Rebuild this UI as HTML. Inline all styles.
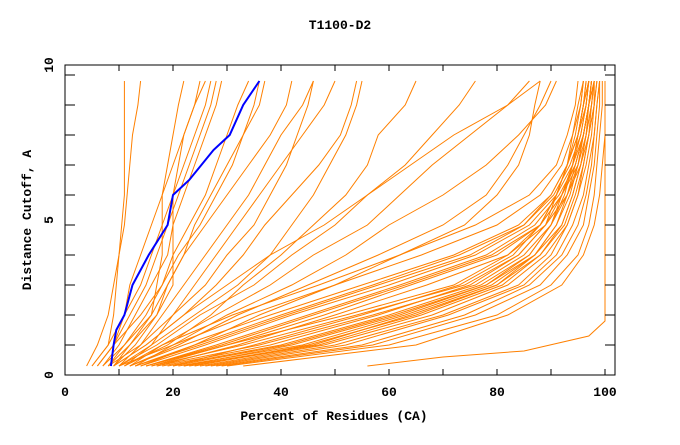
<!DOCTYPE html>
<html><head><meta charset="utf-8"><style>
body{margin:0;background:#fff}
svg text{font-family:"Liberation Mono",monospace;font-weight:bold;fill:#000}
</style></head><body>
<svg id="chart" width="680" height="440" viewBox="0 0 680 440" xmlns="http://www.w3.org/2000/svg">
<rect width="680" height="440" fill="#fff"/>
<text x="340" y="29" font-size="13" text-anchor="middle">T1100-D2</text>
<text x="334" y="420" font-size="13" text-anchor="middle">Percent of Residues (CA)</text>
<text x="0" y="0" font-size="13" text-anchor="middle" transform="translate(31,220) rotate(-90)">Distance Cutoff, A</text>
<g id="lines"></g>
<g id="axes"></g>
</svg>
<script>
const cutoffs=[0.3,1,2,3,4,5,6,7,8,9,9.8];
const xTicks=[0,20,40,60,80,100];
const yTicks=[0,5,10];
const modelB=[
[22,42,62,78,86,90,92,94,95,96,97],[18,38,58,75,84,89,91,93,95,96,96.5],
[25,48,68,82,89,93,95,96,97,98,98],[20,35,55,73,83,88,91,93,94,95,96],
[15,30,52,72,82,88,91,93,94.5,95.5,96],[28,55,74,86,92,95,96.5,97.5,98,98.5,99],
[30,60,80,90,95,97,98,98.5,99,99.5,99.5],[24,45,65,80,87,91,93.5,95,96,97,97.5],
[19,40,60,77,86,90,93,94.5,96,97,97.5],[26,50,70,84,90,93,95,96.5,97.5,98,98.5],
[21,44,63,79,87,92,94,95.5,96.5,97,98],[33,65,82,92,96,98,99,99.5,100,100,100],
[17,36,57,76,85,90,92.5,94,95.5,96.5,97],[23,47,66,81,88,92.5,94.5,96,97,97.5,98],
[20,41,61,78,87,91,93,95,96,97,97.5],[16,33,54,74,84,89,92,94,95,96.5,97],
[27,52,71,85,91,94,96,97,98,98.5,99],[22,46,64,80,88,92,94,95.5,96.5,97.5,98],
[29,57,76,88,93,96,97,98,98.5,99,99]];
const modelC=[
[12,22,38,55,72,84,90,93,95,96,97],[14,26,42,60,76,86,91,94,96,97,97.5],
[10,20,34,50,66,80,88,92,94,95.5,96],[16,30,48,64,80,88,92,95,96.5,97.5,98],
[13,24,40,57,73,85,90.5,93.5,95.5,96.5,97],[11,18,31,47,62,76,86,91,93,94.5,95],
[15,28,45,62,78,87,91.5,94.5,96,97,98],[17,32,50,67,82,89,93,95.5,97,98,98.5],
[13,25,41,58,75,85,90,93,95,96,96.5],[15,29,46,63,79,88,92,94.5,96,97,97.5]];
const modelD=[
[12,18,28,38,46,56,62,68,75,82,86],[10,17,25,35,42,50,56,63,68,73,76],
[11,19,27,33,40,46,52,56,58,63,65],[13,20,30,42,52,60,70,78,84,89,91],
[10,16,24,32,38,42,46,49,52,54,55],[9,15,22,28,33,37,42,47,51,53,54],
[12,21,32,45,58,70,78,82,85,88,90],[8,14,20,26,30,35,38,41,43,45,46],
[9,15,22,30,38,48,56,64,72,82,88],[14,24,36,50,62,74,80,84,86,87,88]];
const modelA=[
[5,8,9,9.5,10,10.5,11,11,11,11,11],[4,6,8,9,10,11,11.5,12,12.5,13.5,14],
[5,8,11,14,16,18,20,22,24,26,27],[6,9,12,15,17,19,21,23,25,27,28],
[7,10,13,16,19,20,22,24,26,28,29],[6,9,14,18,20,23,26,28,30,32,34],
[8,11,15,18,21,25,28,31,33,35,36],[9,12,16,19,22,26,30,34,38,41,42],
[10,14,18,22,26,30,34,37,40,44,46],[7,11,16,17,18,18,18,19,20,21,22],
[8,12,17,20,20,20,20,21,22,24,25],[9,13,17,19,22,24,27,30,33,36,37],
[11,16,20,24,28,32,36,40,44,48,50],[6,9,11,12,14,16,18,20,22,24,26]];
const outlierX=[56,70,85,97,100,100];
const outlierY=[0.3,0.6,0.8,1.3,1.8,9.8];
const targetX=[8.5,9,9.5,11,12.5,15.5,19,20,23,27.5,30.5,33,36];
const targetY=[0.3,1,1.5,2,3,4,5,6,6.5,7.5,8,9,9.8];

const X0=65,X1=605,Y0=375,TOP=65,R=615,PER=30;
const sx=v=>X0+(X1-X0)*v/100;
const sy=v=>Y0-PER*v;
const syLabel=v=>Y0-31*v;
const NS='http://www.w3.org/2000/svg';
const lg=document.getElementById('lines');
function poly(xs,ys,color,w,name){
  const p=document.createElementNS(NS,'polyline');
  p.setAttribute('points',xs.map((x,i)=>sx(x).toFixed(1)+','+sy(ys[i]).toFixed(1)).join(' '));
  p.setAttribute('fill','none');p.setAttribute('stroke',color);p.setAttribute('stroke-width',w);
  
  
  lg.appendChild(p);
}
[modelA,modelB,modelC,modelD].forEach(g=>g.forEach(s=>poly(s,cutoffs,'#ff8000',1,'model-line')));
poly(outlierX,outlierY,'#ff8000',1,'model-line');
poly(targetX,targetY,'#0000ff',2,'highlight-line');

const ag=document.getElementById('axes');
function el(tag,attrs,name,text){
  const e=document.createElementNS(NS,tag);
  for(const k in attrs)e.setAttribute(k,attrs[k]);
  
  
  if(text!==undefined)e.textContent=text;
  ag.appendChild(e);return e;
}
el('rect',{x:X0,y:TOP,width:R-X0,height:Y0-TOP,fill:'none',stroke:'#000','stroke-width':1},'plot-frame');
for(let v=0;v<=100;v+=10){
  const x=sx(v);
  el('line',{x1:x,y1:Y0,x2:x,y2:Y0-6,stroke:'#000'},'x-tick');
  el('line',{x1:x,y1:TOP,x2:x,y2:TOP+6,stroke:'#000'},'x-tick');
}
for(let v=0;v<=10;v++){
  const y=sy(v);
  el('line',{x1:X0,y1:y,x2:X0+10,y2:y,stroke:'#000'},'y-tick');
  el('line',{x1:R,y1:y,x2:R-10,y2:y,stroke:'#000'},'y-tick');
}
xTicks.forEach(v=>el('text',{x:sx(v),y:Y0+21,'font-size':13,'text-anchor':'middle'},'x-tick-label',String(v)));
yTicks.forEach(v=>el('text',{x:0,y:0,'font-size':13,'text-anchor':'middle',transform:`translate(53,${syLabel(v)}) rotate(-90)`},'y-tick-label',String(v)));
</script>
</body></html>
